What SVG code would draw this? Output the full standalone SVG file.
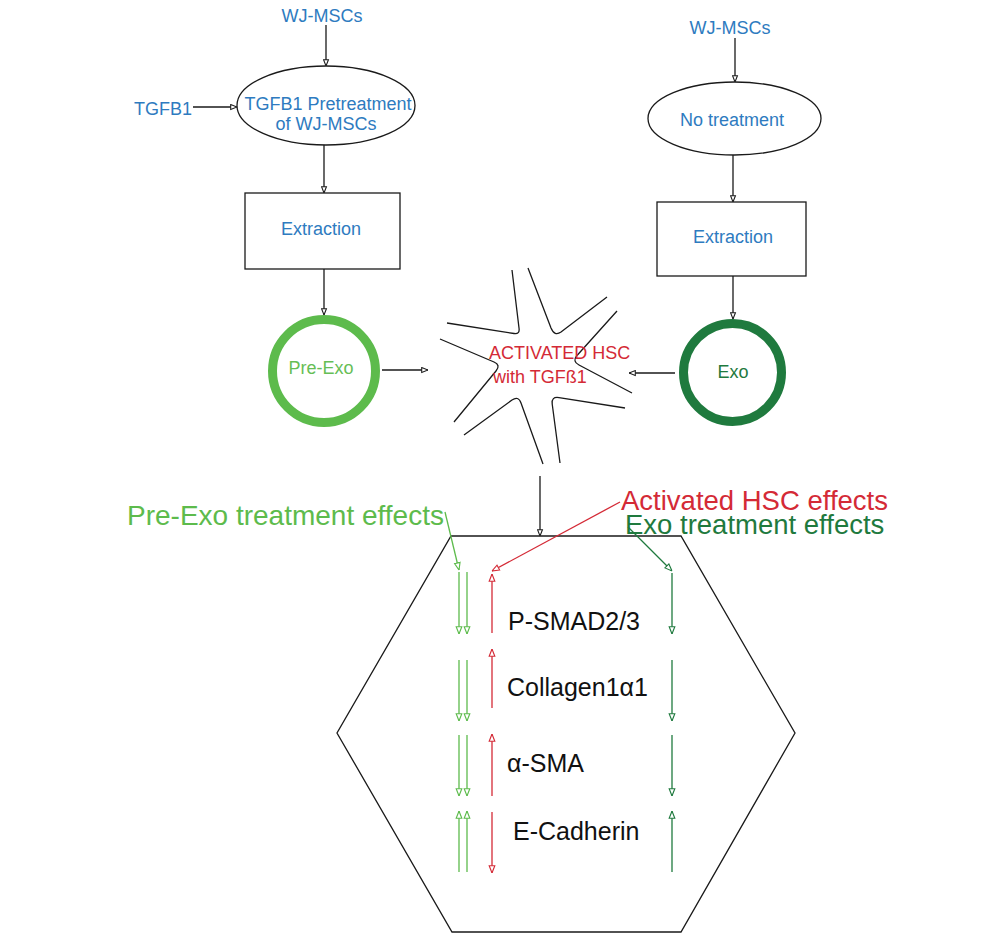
<svg xmlns="http://www.w3.org/2000/svg" width="1000" height="944" viewBox="0 0 1000 944">
<style>
text{font-family:"Liberation Sans",Arial,sans-serif}
.blue{fill:#2E7BC0;font-size:18px}
.blk{fill:none;stroke:#1a1a1a;stroke-width:1.3}
.ln{fill:none;stroke-width:1.3}
.k{stroke:#1a1a1a}
.lg{stroke:#5DBB4C}
.dg{stroke:#1F7A3E}
.rd{stroke:#D42A36}
.lab{font-size:25px;fill:#111}
</style>
<defs>
<marker id="ak" viewBox="0 0 10 10" refX="10" refY="5" markerWidth="7" markerHeight="7" markerUnits="userSpaceOnUse" orient="auto"><path d="M1,1.5 L10,5 L1,8.5 Z" fill="#fff" stroke="#1a1a1a" stroke-width="1.5"/></marker>
<marker id="alg" viewBox="0 0 10 10" refX="10" refY="5" markerWidth="8" markerHeight="8" markerUnits="userSpaceOnUse" orient="auto"><path d="M1,1.5 L10,5 L1,8.5 Z" fill="#fff" stroke="#5DBB4C" stroke-width="1.4"/></marker>
<marker id="adg" viewBox="0 0 10 10" refX="10" refY="5" markerWidth="8" markerHeight="8" markerUnits="userSpaceOnUse" orient="auto"><path d="M1,1.5 L10,5 L1,8.5 Z" fill="#fff" stroke="#1F7A3E" stroke-width="1.4"/></marker>
<marker id="ard" viewBox="0 0 10 10" refX="10" refY="5" markerWidth="8" markerHeight="8" markerUnits="userSpaceOnUse" orient="auto"><path d="M1,1.5 L10,5 L1,8.5 Z" fill="#fff" stroke="#D42A36" stroke-width="1.4"/></marker>
</defs>
<rect width="1000" height="944" fill="#fff"/>

<g id="wjmsc-left"><text class="blue" x="322" y="22" text-anchor="middle">WJ-MSCs</text></g>
<g id="tgfb1"><text class="blue" x="163" y="115" text-anchor="middle">TGFB1</text></g>
<g id="pretreat">
<ellipse cx="326" cy="105.5" rx="89" ry="39.5" class="blk"/>
<text class="blue" x="328" y="110" text-anchor="middle">TGFB1 Pretreatment</text>
<text class="blue" x="326" y="130" text-anchor="middle">of WJ-MSCs</text>
</g>
<g id="extraction-left">
<rect x="245" y="193" width="155" height="76" class="blk"/>
<text class="blue" x="321" y="235" text-anchor="middle">Extraction</text>
</g>
<g id="preexo">
<circle cx="324" cy="371" r="51.5" fill="none" stroke="#5DBB4C" stroke-width="9"/>
<text x="321" y="374" text-anchor="middle" style="font-size:18px;fill:#66BE55">Pre-Exo</text>
</g>

<g id="wjmsc-right"><text class="blue" x="730" y="34" text-anchor="middle">WJ-MSCs</text></g>
<g id="notreat">
<ellipse cx="734.5" cy="118.5" rx="86.5" ry="36.5" class="blk"/>
<text class="blue" x="732" y="126" text-anchor="middle">No treatment</text>
</g>
<g id="extraction-right">
<rect x="657" y="202" width="149" height="74" class="blk"/>
<text class="blue" x="733" y="243" text-anchor="middle">Extraction</text>
</g>
<g id="exo">
<circle cx="732.5" cy="372.5" r="49" fill="none" stroke="#1F7A3E" stroke-width="9"/>
<text x="733" y="378" text-anchor="middle" style="font-size:18px;fill:#1F7A3E">Exo</text>
</g>

<g id="hsc">
<path class="blk" d="M512,270 L519,328 Q520,334.4 514,333.5 L447,323"/>
<path class="blk" d="M528,268 L551,328 Q554.6,336.6 561,332 L607,297"/>
<path class="blk" d="M617,311 L577,355.5 Q572,361.4 579,365 L632,393"/>
<path class="blk" d="M625,408 L559,397.6 Q551.2,396.4 552.2,404 L560,463"/>
<path class="blk" d="M543,464 L521,403 Q518.4,395.5 512,400 L464,435"/>
<path class="blk" d="M454,422 L496,371 Q501,365 494,362 L440,339"/>
<text x="489" y="359" style="font-size:18px;fill:#D42A36">ACTIVATED HSC</text>
<text x="493" y="383" style="font-size:18px;fill:#D42A36">with TGFß1</text>
</g>

<g id="cell">
<polygon class="blk" points="451,536 681,536 795,733 681,932 452,932 337,733"/>
<text class="lab" x="508" y="630">P-SMAD2/3</text>
<text class="lab" x="507" y="696">Collagen1α1</text>
<text class="lab" x="507" y="772">α-SMA</text>
<text class="lab" x="513" y="840">E-Cadherin</text>
</g>

<g id="label-preexo"><text x="127" y="525" style="font-size:28px;fill:#5DBB4C">Pre-Exo treatment effects</text></g>
<g id="label-hsc"><text x="621" y="510" style="font-size:27.5px;fill:#D42A36">Activated HSC effects</text></g>
<g id="label-exo"><text x="625" y="534" style="font-size:27.5px;fill:#1F7A3E">Exo treatment effects</text></g>

<g id="connectors">
<line class="ln k" x1="326" y1="25" x2="326" y2="66" marker-end="url(#ak)"/>
<line class="ln k" x1="193" y1="107" x2="237" y2="107" marker-end="url(#ak)"/>
<line class="ln k" x1="324" y1="145" x2="324" y2="193" marker-end="url(#ak)"/>
<line class="ln k" x1="324" y1="269" x2="324" y2="315" marker-end="url(#ak)"/>
<line class="ln k" x1="382" y1="370" x2="428" y2="370" marker-end="url(#ak)"/>
<line class="ln k" x1="735" y1="38" x2="735" y2="82" marker-end="url(#ak)"/>
<line class="ln k" x1="733" y1="155" x2="733" y2="202" marker-end="url(#ak)"/>
<line class="ln k" x1="733" y1="276" x2="733" y2="319" marker-end="url(#ak)"/>
<line class="ln k" x1="675" y1="373" x2="629" y2="373" marker-end="url(#ak)"/>
<line class="ln k" x1="540" y1="476" x2="540" y2="536" marker-end="url(#ak)"/>

<polyline class="ln lg" points="445,512 459,570" marker-end="url(#alg)"/>
<line class="ln rd" x1="620" y1="502" x2="492" y2="571" marker-end="url(#ard)"/>
<line class="ln dg" x1="628" y1="527" x2="672" y2="571" marker-end="url(#adg)"/>

<line class="ln lg" x1="459" y1="572" x2="459" y2="634" marker-end="url(#alg)"/>
<line class="ln lg" x1="467" y1="572" x2="467" y2="634" marker-end="url(#alg)"/>
<line class="ln rd" x1="492" y1="633" x2="492" y2="574" marker-end="url(#ard)"/>
<line class="ln dg" x1="672" y1="573" x2="672" y2="634" marker-end="url(#adg)"/>

<line class="ln lg" x1="459" y1="660" x2="459" y2="721" marker-end="url(#alg)"/>
<line class="ln lg" x1="467" y1="660" x2="467" y2="721" marker-end="url(#alg)"/>
<line class="ln rd" x1="492" y1="708" x2="492" y2="649" marker-end="url(#ard)"/>
<line class="ln dg" x1="672" y1="660" x2="672" y2="721" marker-end="url(#adg)"/>

<line class="ln lg" x1="459" y1="735" x2="459" y2="796" marker-end="url(#alg)"/>
<line class="ln lg" x1="467" y1="735" x2="467" y2="796" marker-end="url(#alg)"/>
<line class="ln rd" x1="492" y1="796" x2="492" y2="734" marker-end="url(#ard)"/>
<line class="ln dg" x1="672" y1="735" x2="672" y2="796" marker-end="url(#adg)"/>

<line class="ln lg" x1="459" y1="872" x2="459" y2="811" marker-end="url(#alg)"/>
<line class="ln lg" x1="467" y1="872" x2="467" y2="811" marker-end="url(#alg)"/>
<line class="ln rd" x1="492" y1="812" x2="492" y2="873" marker-end="url(#ard)"/>
<line class="ln dg" x1="672" y1="872" x2="672" y2="811" marker-end="url(#adg)"/>
</g>
</svg>
